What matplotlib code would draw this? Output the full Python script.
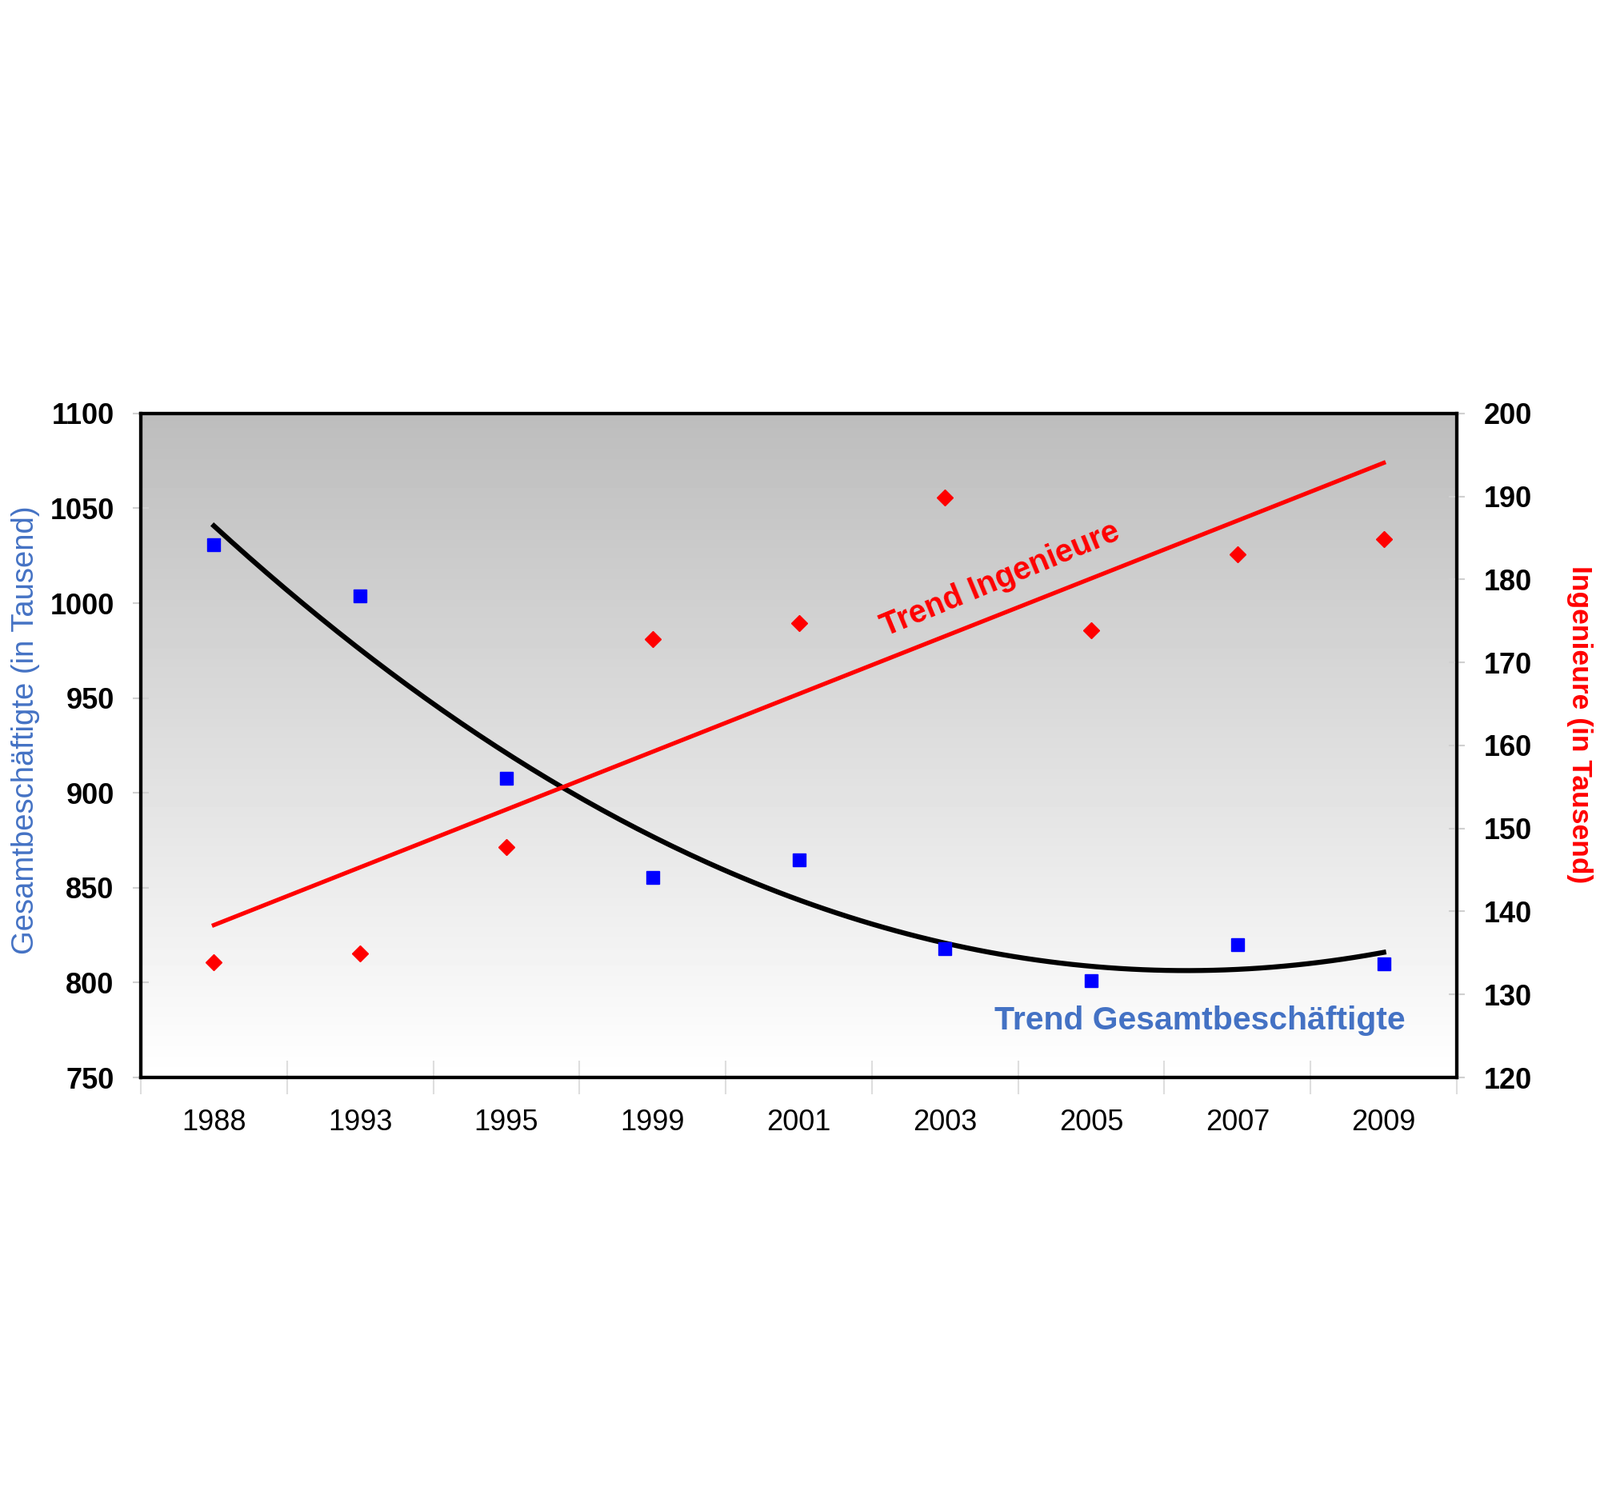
import numpy as np
import matplotlib
matplotlib.use('Agg')
import matplotlib.pyplot as plt

# Werte
jahre = ['1988', '1993', '1995', '1999', '2001', '2003', '2005', '2007', '2009']
gesamt = [1030.6, 1003.8, 907.5, 855.4, 864.5, 817.7, 801.1, 819.9, 809.7]
ingenieure = [133.9, 134.9, 147.8, 172.8, 174.7, 189.9, 173.9, 183.0, 184.9]

plt.rcParams['font.family'] = ['Liberation Sans', 'DejaVu Sans']

blau = '#4472c4'
rot = '#ff0000'

fig = plt.figure(figsize=(20, 18.59), dpi=100)
ax = fig.add_axes([0.088, 0.2754, 0.8225, 0.4466])
ax2 = ax.twinx()

x = np.arange(len(jahre))

# grauer Verlauf im Hintergrund
verlauf = np.linspace(0.74, 1.0, 256).reshape(-1, 1)
ax.imshow(verlauf, cmap='gray', vmin=0, vmax=1, extent=[0, 1, 0, 1],
          transform=ax.transAxes, aspect='auto', zorder=0)

# Trendlinien aus den Daten
xs = np.linspace(0, len(jahre) - 1, 200)
trend_ges = np.polyval(np.polyfit(x, gesamt, 2), xs)
trend_ing = np.polyval(np.polyfit(x, ingenieure, 1), x)

ax.plot(xs, trend_ges, color='black', lw=4.5, zorder=2)
ax.plot(x, gesamt, 's', color='#0000ff', ms=12, zorder=3)
ax2.plot(x, trend_ing, color=rot, lw=3.8, zorder=2)
ax2.plot(x, ingenieure, 'D', color=rot, ms=10, zorder=3)

ax.set_xlim(-0.5, len(jahre) - 0.5)
ax.set_ylim(750, 1100)
ax2.set_ylim(120, 200)

ax.set_xticks(x, jahre)
ax.set_xticks(np.arange(-0.5, len(jahre)), minor=True)
ax.tick_params(axis='x', which='major', length=0, pad=28, labelsize=26)
ax.tick_params(axis='x', which='minor', direction='inout', length=30,
               color='#dedede', width=1.5)
ax.set_yticks(range(750, 1101, 50))
ax2.set_yticks(range(120, 201, 10))
ax.tick_params(axis='y', direction='inout', length=14, color='#d0d0d0',
               width=1.5, labelsize=26, pad=17)
ax2.tick_params(axis='y', direction='inout', length=14, color='#d0d0d0',
                width=1.5, labelsize=26, pad=17)
plt.setp(ax.get_yticklabels(), fontweight='bold')
plt.setp(ax2.get_yticklabels(), fontweight='bold')

for a in (ax, ax2):
    for s in a.spines.values():
        s.set_linewidth(3)
        s.set_color('black')

fig.text(0.016, 0.509, 'Gesamtbeschäftigte (in Tausend)', rotation=90,
         ha='center', va='center', fontsize=27.5, color=blau)
fig.text(0.9875, 0.5127, 'Ingenieure (in Tausend)', rotation=270,
         ha='center', va='center', fontsize=25.5, color=rot, fontweight='bold')

ax.text(8.15, 780, 'Trend Gesamtbeschäftigte', ha='right', va='center',
        fontsize=29.5, fontweight='bold', color=blau, zorder=4)
ax2.text(5.38, 180, 'Trend Ingenieure', ha='center', va='center',
         rotation=22.5, rotation_mode='anchor', fontsize=28.5,
         fontweight='bold', color=rot, zorder=4)

fig.savefig('out.png', dpi=100)
